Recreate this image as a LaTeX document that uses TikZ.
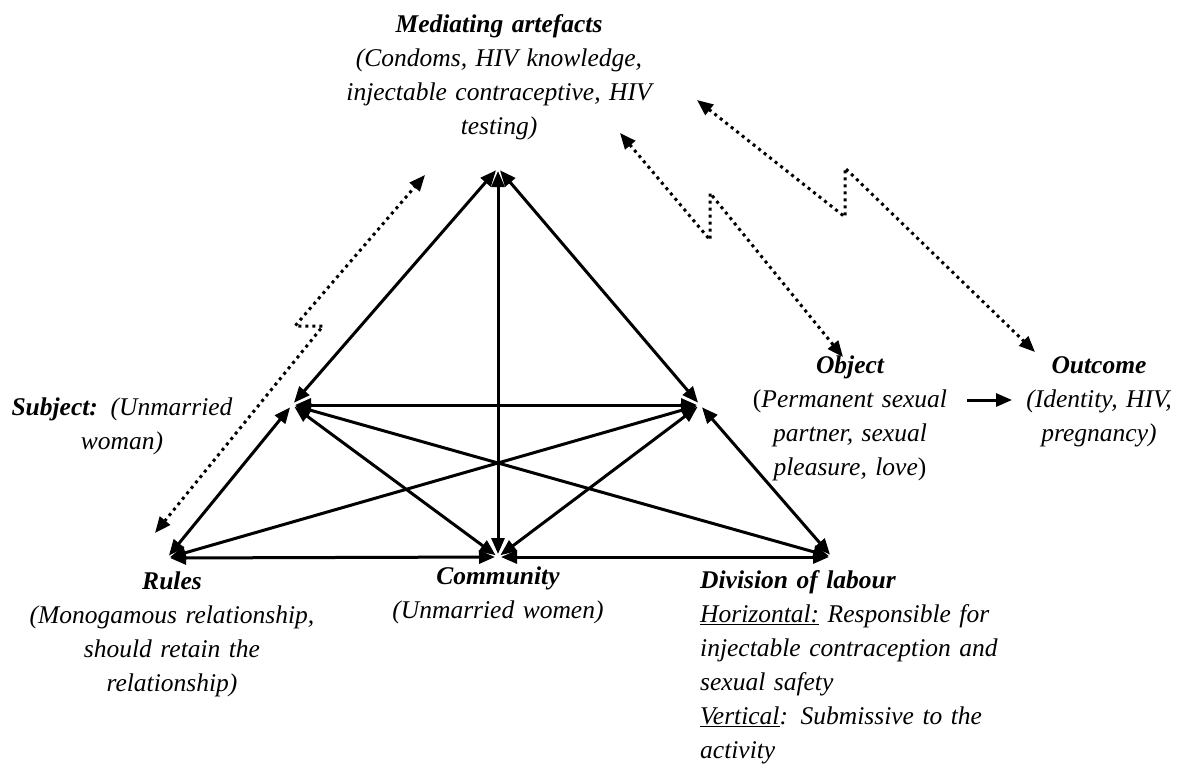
\documentclass[tikz,border=0pt]{standalone}
\usepackage{fontspec}
\setmainfont{Liberation Serif}
\usetikzlibrary{arrows.meta}
\begin{document}
\begin{tikzpicture}[x=1pt,y=-1pt,
  lab/.style={inner sep=0pt, font=\fontsize{25.5}{34}\selectfont\itshape, align=center, anchor=base},
  link/.style={line width=3pt, {Triangle[length=16pt,width=13pt]}-{Triangle[length=16pt,width=13pt]}, shorten <=3pt, shorten >=3pt},
  dotlink/.style={line width=3pt, dash pattern=on 3pt off 4pt, {Triangle[length=16pt,width=13pt]}-{Triangle[length=16pt,width=13pt]}},
  onelink/.style={line width=3pt, -{Triangle[length=16pt,width=13pt]}}
]
\fill[white] (0,0) rectangle (1188,763);
\useasboundingbox (0,0) rectangle (1188,763);

% labels
\node[lab, text width=340pt] (Tlab) at (499,32) {\textbf{Mediating artefacts}\\(Condoms, HIV knowledge,\\injectable contraceptive, HIV\\testing)};
\node[lab, text width=260pt] (Slab) at (122,415) {\textbf{Subject:} (Unmarried\\woman)};
\node[lab, text width=230pt] (Olab) at (850,373) {\textbf{Object}\\\textup{(}Permanent sexual\\partner, sexual\\pleasure, love\textup{)}};
\node[lab, text width=200pt] (Ulab) at (1099,373) {\textbf{Outcome}\\(Identity, HIV,\\pregnancy)};
\node[lab, text width=320pt] (Rlab) at (172,589) {\textbf{Rules}\\(Monogamous relationship,\\should retain the\\relationship)};
\node[lab, text width=260pt] (Clab) at (498,584) {\textbf{Community}\\(Unmarried women)};
\node[lab, text width=340pt, align=left, anchor=base west] (Dlab) at (700,588) {\textbf{Division of labour}\\\underline{Horizontal:} Responsible for\\injectable contraception and\\sexual safety\\\underline{Vertical}: Submissive to the\\activity};

% vertices
\coordinate (T) at (498,168);
\coordinate (S) at (292,405);
\coordinate (O) at (700,405);
\coordinate (R) at (167,558);
\coordinate (C) at (498,557);
\coordinate (D) at (832,557);

% solid connectors
\draw[link] (T) -- (S);
\draw[link] (T) -- (C);
\draw[link] (T) -- (O);
\draw[link] (S) -- (R);
\draw[link] (O) -- (D);
\draw[link] (S) -- (O);
\draw[link] (S) -- (C);
\draw[link] (S) -- (D);
\draw[link] (O) -- (R);
\draw[link] (O) -- (C);
\draw[link] (R) -- (C);
\draw[link] (C) -- (D);

% dotted zigzag connectors
\coordinate (a1) at (155,533);
\coordinate (a2) at (323,326);
\coordinate (a3) at (295,326);
\coordinate (a4) at (425,175);
\draw[dotlink] (a1) -- (a2) -- (a3) -- (a4);

\coordinate (b1) at (620,133);
\coordinate (b2) at (710,240);
\coordinate (b3) at (710,193);
\coordinate (b4) at (843,357);
\draw[dotlink] (b1) -- (b2) -- (b3) -- (b4);

\coordinate (c1) at (697,100);
\coordinate (c2) at (845,217);
\coordinate (c3) at (845,168);
\coordinate (c4) at (1035,352);
\draw[dotlink] (c1) -- (c2) -- (c3) -- (c4);

% object -> outcome
\coordinate (oa) at (967,400);
\coordinate (ob) at (1012,400);
\draw[onelink] (oa) -- (ob);
\end{tikzpicture}
\end{document}
